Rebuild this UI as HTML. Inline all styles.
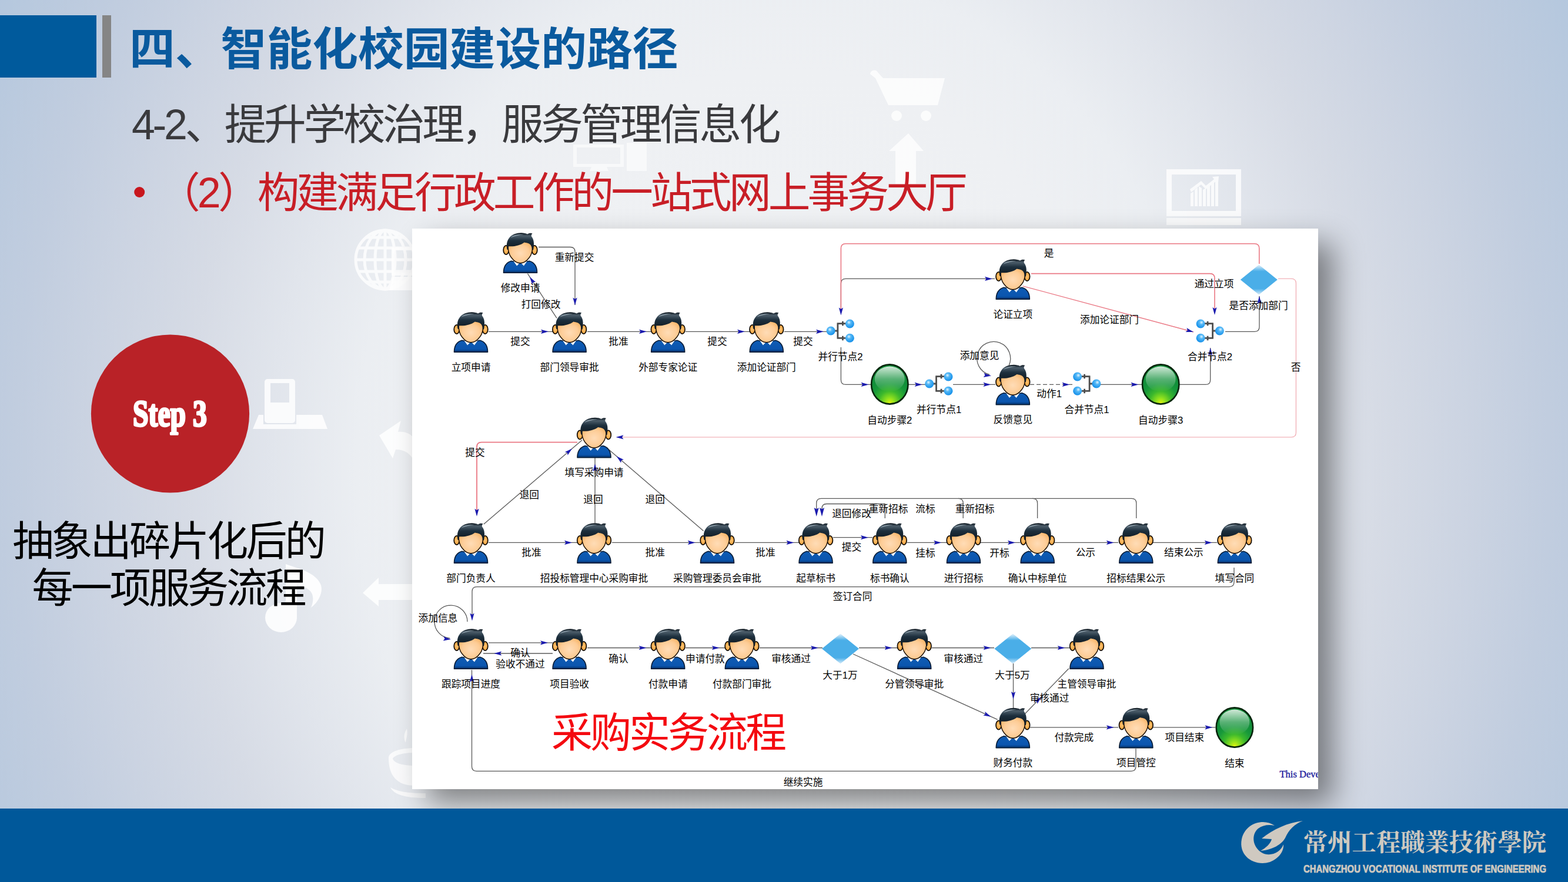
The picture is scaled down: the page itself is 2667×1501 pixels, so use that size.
<!DOCTYPE html>
<html lang="zh"><head><meta charset="utf-8"><title>slide</title>
<style>
html,body{margin:0;padding:0}
body{width:2667px;height:1501px;position:relative;overflow:hidden;font-family:"Liberation Sans",sans-serif;background:#dfe4ec}
.bg{position:absolute;left:0;top:0;width:2667px;height:1501px;background:
 radial-gradient(ellipse 1450px 1700px at 1330px 800px,#f1f3f5 0%,#eef0f3 40%,#ebeef2 50%,#e1e5ec 60%,#d6dbe5 70%,#ccd4e2 80%,#c1cddf 90%,#b8c9de 100%,#aec5de 110%)}
.t{fill:#000;font-family:"Liberation Sans","Noto Sans CJK SC",sans-serif}
.tf{font-family:"Liberation Sans","Noto Sans CJK SC",sans-serif}
.hb{position:absolute;left:0;top:26px;width:164px;height:105.500px;background:#005a9c}
.hg{position:absolute;left:174px;top:26px;width:14.500px;height:105.500px;background:#858585}
.panel{position:absolute;left:700.500px;top:389.300px;width:1541.300px;height:953.800px;background:#fff;box-shadow:25px 25px 48px 0 rgba(0,0,0,.46)}
.ft{position:absolute;left:0;top:1376px;width:2667px;height:125px;background:#00589a}
</style></head><body>
<div class="bg"></div>
<svg width="2667" height="1501" viewBox="0 0 2667 1501" style="position:absolute;left:0;top:0" fill="#fff"><g opacity=".8"><path d="M1480 126a7 7 0 0 1 13-3l9 10h105l-12 46h-84l-22-46z"/><circle cx="1525" cy="197" r="9"/><circle cx="1575" cy="197" r="9"/></g><g opacity=".75"><path d="M1545 227l26 30h-13v56h-35v-56h-11z"/></g><g opacity=".6"><path d="M975 246h86v38h-86zM981 251v28h74v-28z" fill-rule="evenodd"/><path d="M1006 284h26l3 7h-32zM1066 243h34v48h-34z"/></g><g opacity=".8"><path d="M1984 288h127v80h-127zM1993 297v62h109v-62z" fill-rule="evenodd"/><path d="M1984 371h127v12h-127z"/><path d="M2025 351v-22l5-3v25zM2032 351v-28l5-4v32zM2039 351v-34l5 3v31zM2046 351v-28l5-3v31zM2053 351v-34l5-4v38zM2060 351v-41l5-4v45zM2067 351v-46l5-3v49z"/><path d="M2024 322l19-14 8 8 14-11-3-4 11-1-1 11-3-3-18 14-8-8-17 13z"/></g><g opacity=".8" fill="none" stroke="#fff" stroke-width="5"><circle cx="655" cy="442" r="50"/><ellipse cx="655" cy="442" rx="17" ry="50"/><ellipse cx="655" cy="442" rx="35" ry="50"/><path d="M655 392v100M605 442h100M610 422h90M610 462h90M622 404h66M622 480h66"/></g><g opacity=".85"><path d="M666 421h70v48h-70zM671 426v38h60v-38z" fill-rule="evenodd"/><path d="M668 471h68v23h-74z"/></g><g opacity=".85"><path d="M455 645h42a5 5 0 0 1 5 5v65a5 5 0 0 1-5 5h-42a5 5 0 0 1-5-5v-65a5 5 0 0 1 5-5zM460 652v33h32v-33z" fill-rule="evenodd"/><path d="M440 706h8v16h56v-16h44l9 24h-127z"/></g><g opacity=".85"><path d="M645 741l37-25-5 19c14-1 22 4 28 12v40c-5-14-16-22-32-22l-5 15z"/></g><g opacity=".85"><path d="M617 1009l27-26v11h62v27h-62v11z"/></g><g opacity=".9"><ellipse cx="478" cy="1051" rx="27" ry="25"/><path d="M486 960c22 8 52 14 60 36 4 14-6 30-17 38 6-14 4-26-6-32-6-4-12-6-18-7v58h-19z"/></g><g opacity=".8"><path d="M661 1290c0 30 14 47 45 47v-64c-25 0-45 6-45 17zM668 1291c4-7 20-10 38-10v22c-20 0-36-4-38-12z" fill-rule="evenodd"/><path d="M664 1340c6 12 24 18 60 18v-8c-30 0-48-3-60-10z"/><path d="M692 1240c-5 8-6 16-2 24 1-8 4-14 2-24z"/></g></svg>
<div class="hb"></div><div class="hg"></div>
<div class="panel"></div>
<div class="ft"></div>
<svg width="2667" height="1501" viewBox="0 0 2667 1501" style="position:absolute;left:0;top:0"><defs>
<linearGradient id="gBody" x1="0" y1="0" x2="0" y2="1"><stop offset="0" stop-color="#0f5cb4"/><stop offset=".75" stop-color="#0b55ae"/><stop offset=".9" stop-color="#063d80"/><stop offset="1" stop-color="#04264f"/></linearGradient>
<radialGradient id="gFace" cx=".5" cy=".55" r=".6"><stop offset="0" stop-color="#ffdcb6"/><stop offset=".6" stop-color="#fdcc96"/><stop offset="1" stop-color="#f8b262"/></radialGradient>
<linearGradient id="gHair" x1="0" y1="0" x2="0" y2="1"><stop offset="0" stop-color="#0b141c"/><stop offset=".18" stop-color="#4b5c69"/><stop offset=".45" stop-color="#1d2f3d"/><stop offset="1" stop-color="#0b151d"/></linearGradient>
<radialGradient id="gEar" cx=".5" cy=".5" r=".6"><stop offset="0" stop-color="#fcc476"/><stop offset="1" stop-color="#f29a2c"/></radialGradient>
<radialGradient id="gBall" cx=".5" cy=".98" r=".62"><stop offset="0" stop-color="#e2f40e"/><stop offset=".22" stop-color="#8ee01e"/><stop offset=".5" stop-color="#3cb82c"/><stop offset=".8" stop-color="#18993a"/><stop offset="1" stop-color="#12903a"/></radialGradient>
<linearGradient id="gBallHi" x1="0" y1="0" x2="0" y2="1"><stop offset="0" stop-color="#fff" stop-opacity=".8"/><stop offset=".5" stop-color="#fff" stop-opacity=".3"/><stop offset="1" stop-color="#fff" stop-opacity="0"/></linearGradient>
<linearGradient id="gDia" x1="0" y1="0" x2="0" y2="1"><stop offset="0" stop-color="#e8f4fc"/><stop offset=".22" stop-color="#4aaee8"/><stop offset=".8" stop-color="#4aaee8"/><stop offset="1" stop-color="#d8ecfa"/></linearGradient>
<radialGradient id="gDot" cx=".4" cy=".35" r=".65"><stop offset="0" stop-color="#e6f6ff"/><stop offset=".35" stop-color="#55b8f6"/><stop offset="1" stop-color="#1590ea"/></radialGradient>
<g id="P">
<path d="M1 68.3C1 58 5 51 14 48.3L29.5 51 45 48.3C54 51 58 58 58 68.3Z" fill="url(#gBody)" stroke="#061a33" stroke-width="1.6" stroke-linejoin="round"/>
<path d="M18 48.6l5.6 7.8 4.4-4.6zM41 48.6l-5.6 7.8-4.4-4.6z" fill="#fff"/>
<ellipse cx="5.3" cy="29.5" rx="4.6" ry="7.6" fill="url(#gEar)" stroke="#100a04" stroke-width="1.7"/>
<ellipse cx="53.7" cy="29.5" rx="4.6" ry="7.6" fill="url(#gEar)" stroke="#100a04" stroke-width="1.7"/>
<path d="M8.6 22C8.6 12 50.4 12 50.4 22 50.4 30 49 37 45 42 41 47.5 36 51.8 29.5 51.8 23 51.8 18 47.5 14 42 10 37 8.6 30 8.600 22Z" fill="url(#gFace)" stroke="#1a0e04" stroke-width="1.4"/>
<path d="M7.3 29C5.800 24 5.500 15 10.500 9 15 3 23 .3 31 .3 35.500 .3 39 1.300 41.500 2.500 44 .6 47.500 .2 50 1.200 48.500 2.600 48 4.500 48.500 6.500 52.500 11 53.500 18 51.500 29.500L49.300 29.500C49.500 24 47.500 20 43.500 18.300 41.500 17.500 39 17 36.300 16.500 30 21.500 19 24 9.600 23.200 9.400 25 9.300 27 9.400 29Z" fill="url(#gHair)"/>
<path d="M13 8.500C18 3.500 27 2.300 35 3.200 27 3.800 19 6 13 8.500Z" fill="#9fb0bb" opacity=".8"/>
</g><g id="B"><ellipse rx="31.2" ry="33.6" fill="url(#gBall)" stroke="#06240c" stroke-width="2.600"/><ellipse cy="-9" rx="25.500" ry="21.500" fill="url(#gBallHi)"/></g><g id="D"><path d="M-31.500 0L0-25.500 31.500 0 0 25.500Z" fill="url(#gDia)"/></g><g id="Fk"><path d="M-4.600-12.400V12.400M-5.900-12.400H9M-5.900 12.400H9M3.900-16.200V-8.800M3.900 8.800V16.200M-10 0H-4" stroke="#4e4e4e" stroke-width="2.800" fill="none"/><circle cx="-16.400" cy="0" r="7.500" fill="url(#gDot)"/><circle cx="15.900" cy="-12" r="7.500" fill="url(#gDot)"/><circle cx="15.900" cy="12.200" r="7.500" fill="url(#gDot)"/></g></defs><g stroke-linecap="butt"><path d="M831,564.3 H940" stroke="#5a5a5a" stroke-width="1.3" fill="none"/><path d="M999,564.3 H1107" stroke="#5a5a5a" stroke-width="1.3" fill="none"/><path d="M1166,564.3 H1275" stroke="#5a5a5a" stroke-width="1.3" fill="none"/><path d="M1334,564.3 H1406" stroke="#5a5a5a" stroke-width="1.3" fill="none"/><path d="M897.4,465.7 L947,541.4" stroke="#5a5a5a" stroke-width="1.3" fill="none"/><path d="M916,420.5 H970 Q978,420.5 978,428.5 V519" stroke="#5a5a5a" stroke-width="1.3" fill="none"/><path d="M1430.4,529 V482.4 Q1430.4,474.4 1438.4,474.4 H1692" stroke="#5a5a5a" stroke-width="1.3" fill="none"/><path d="M1430.4,591 V646.4 Q1430.4,654.4 1438.4,654.4 H1482" stroke="#5a5a5a" stroke-width="1.3" fill="none"/><path d="M1545,654.4 H1574" stroke="#5a5a5a" stroke-width="1.3" fill="none"/><path d="M1621,654.4 H1693" stroke="#5a5a5a" stroke-width="1.3" fill="none"/><path d="M1752,654.4 H1824" stroke="#5a5a5a" stroke-width="1.3" fill="none" stroke-dasharray="7 4"/><path d="M1872,654.4 H1942" stroke="#5a5a5a" stroke-width="1.3" fill="none"/><path d="M2006,654.4 H2050.7 Q2058.7,654.4 2058.7,646.4 V592" stroke="#5a5a5a" stroke-width="1.3" fill="none"/><path d="M2084,564.3 H2134 Q2142,564.3 2142,556.3 V504" stroke="#5a5a5a" stroke-width="1.3" fill="none"/><path d="M1716,622 A28.5,28.5 0 1 0 1683,637.500" stroke="#5a5a5a" stroke-width="1.3" fill="none"/><path d="M2141.8,449 V422.8 Q2141.8,414.8 2133.8,414.8 H1438.4 Q1430.4,414.8 1430.4,422.8 V529" stroke="#ea7884" stroke-width="1.6" fill="none"/><path d="M1754,465.6 H2058 Q2066,465.6 2066,473.6 V529" stroke="#ea7884" stroke-width="1.6" fill="none"/><path d="M1739.6,486.8 L2030,565" stroke="#ea7884" stroke-width="1.3" fill="none"/><path d="M2174,474.3 H2196.4 Q2204.4,474.3 2204.4,482.3 V736 Q2204.4,744 2196.4,744 H1050" stroke="#efa0a8" stroke-width="1.1" fill="none"/><path d="M982,752.6 H819 Q811,752.6 811,760.6 V876" stroke="#ea7884" stroke-width="1.8" fill="none"/><path d="M831,923.4 H982" stroke="#5a5a5a" stroke-width="1.3" fill="none"/><path d="M1041,923.4 H1191" stroke="#5a5a5a" stroke-width="1.3" fill="none"/><path d="M1250,923.4 H1359" stroke="#5a5a5a" stroke-width="1.3" fill="none"/><path d="M1417,914.7 H1484" stroke="#5a5a5a" stroke-width="1.3" fill="none"/><path d="M1543,923.4 H1610" stroke="#5a5a5a" stroke-width="1.3" fill="none"/><path d="M1668,923.4 H1735" stroke="#5a5a5a" stroke-width="1.3" fill="none"/><path d="M1794,923.4 H1902" stroke="#5a5a5a" stroke-width="1.3" fill="none"/><path d="M1961,923.4 H2070" stroke="#5a5a5a" stroke-width="1.3" fill="none"/><path d="M822.8,892 L990,749" stroke="#5a5a5a" stroke-width="1.3" fill="none"/><path d="M1012,890 V778" stroke="#5a5a5a" stroke-width="1.3" fill="none"/><path d="M1196.5,903.5 L1036,765.5" stroke="#5a5a5a" stroke-width="1.3" fill="none"/><path d="M1505.3,882 V857.5 H1406 Q1398,857.5 1398,865.5 V876" stroke="#5a5a5a" stroke-width="1.3" fill="none"/><path d="M1638.2,882 V856.4 Q1638.2,848.4 1630.2,848.4 H1396.7 Q1388.7,848.4 1388.7,856.4 V876" stroke="#5a5a5a" stroke-width="1.3" fill="none"/><path d="M1764.6,882 V856.4 Q1764.6,848.4 1756.6,848.4 H1630" stroke="#5a5a5a" stroke-width="1.3" fill="none"/><path d="M1932.8,882 V856.4 Q1932.8,848.4 1924.8,848.4 H1756" stroke="#5a5a5a" stroke-width="1.3" fill="none"/><path d="M2099,966 V990.6 Q2099,998.6 2091,998.6 H811 Q803,998.6 803,1006.6 V1053" stroke="#5a5a5a" stroke-width="1.3" fill="none"/><path d="M831,1093.8 H940" stroke="#5a5a5a" stroke-width="1.3" fill="none"/><path d="M940,1112 H822" stroke="#5a5a5a" stroke-width="1.3" fill="none"/><path d="M999,1102.5 H1107" stroke="#5a5a5a" stroke-width="1.3" fill="none"/><path d="M1166,1102.5 H1233" stroke="#5a5a5a" stroke-width="1.3" fill="none"/><path d="M1292,1102.5 H1399" stroke="#5a5a5a" stroke-width="1.3" fill="none"/><path d="M1461,1102.5 H1526" stroke="#5a5a5a" stroke-width="1.3" fill="none"/><path d="M1585,1102.5 H1691" stroke="#5a5a5a" stroke-width="1.3" fill="none"/><path d="M1754,1102.5 H1819" stroke="#5a5a5a" stroke-width="1.3" fill="none"/><path d="M1451,1113 L1696.8,1224.7" stroke="#5a5a5a" stroke-width="1.3" fill="none"/><path d="M1723.5,1129 V1208" stroke="#5a5a5a" stroke-width="1.3" fill="none"/><path d="M1817.8,1137.8 L1743.4,1214.7" stroke="#5a5a5a" stroke-width="1.3" fill="none"/><path d="M1752,1237.8 H1902" stroke="#5a5a5a" stroke-width="1.3" fill="none"/><path d="M1961,1237.8 H2067" stroke="#5a5a5a" stroke-width="1.3" fill="none"/><path d="M1932,1274 V1304.3 Q1932,1312.3 1924,1312.3 H810.5 Q802.5,1312.3 802.5,1304.3 V1140" stroke="#5a5a5a" stroke-width="1.3" fill="none"/><path d="M795,1058 A28,28 0 1 0 765,1086" stroke="#5a5a5a" stroke-width="1.3" fill="none"/></g><path d="M933,564.3 L920,560.7 L922.5,564.3 L920,567.9 Z" fill="#1a1aae"/><path d="M1100,564.3 L1087,560.7 L1089.5,564.3 L1087,567.9 Z" fill="#1a1aae"/><path d="M1267,564.3 L1254,560.7 L1256.5,564.3 L1254,567.9 Z" fill="#1a1aae"/><path d="M1401,564.3 L1388,560.7 L1390.5,564.3 L1388,567.9 Z" fill="#1a1aae"/><path d="M901,471.2 L905.1,484 L906.8,480 L911.1,480.1 Z" fill="#1a1aae"/><path d="M978,519.5 L981.6,506.5 L978,509 L974.4,506.5 Z" fill="#1a1aae"/><path d="M1688,474.4 L1675,470.8 L1677.5,474.4 L1675,478 Z" fill="#1a1aae"/><path d="M1477.6,654.4 L1464.6,650.8 L1467.1,654.4 L1464.6,658 Z" fill="#1a1aae"/><path d="M1568.7,654.4 L1555.7,650.8 L1558.2,654.4 L1555.7,658 Z" fill="#1a1aae"/><path d="M1685.4,654.4 L1672.4,650.8 L1674.9,654.4 L1672.4,658 Z" fill="#1a1aae"/><path d="M1819.6,654.4 L1806.6,650.8 L1809.1,654.4 L1806.6,658 Z" fill="#1a1aae"/><path d="M1936.5,654.4 L1923.5,650.8 L1926,654.4 L1923.5,658 Z" fill="#1a1aae"/><path d="M2058.7,592 L2055.1,605 L2058.7,602.5 L2062.3,605 Z" fill="#1a1aae"/><path d="M2142,504 L2138.4,517 L2142,514.5 L2145.6,517 Z" fill="#1a1aae"/><path d="M1686,639.5 L1673.4,634.8 L1675.5,638.6 L1672.7,642 Z" fill="#1a1aae"/><path d="M1430.4,536.4 L1434,523.4 L1430.4,525.9 L1426.8,523.4 Z" fill="#1a1aae"/><path d="M2066,536 L2069.6,523 L2066,525.5 L2062.4,523 Z" fill="#1a1aae"/><path d="M2030,565 L2018.4,558.1 L2019.9,562.3 L2016.5,565.1 Z" fill="#1a1aae"/><path d="M1047.5,744 L1060.5,747.6 L1058,744 L1060.5,740.4 Z" fill="#1a1aae"/><path d="M811,878.7 L814.6,865.7 L811,868.2 L807.4,865.7 Z" fill="#1a1aae"/><path d="M973,923.4 L960,919.8 L962.5,923.4 L960,927 Z" fill="#1a1aae"/><path d="M1182.8,923.4 L1169.8,919.8 L1172.3,923.4 L1169.8,927 Z" fill="#1a1aae"/><path d="M1350.5,923.4 L1337.5,919.8 L1340,923.4 L1337.5,927 Z" fill="#1a1aae"/><path d="M1477,914.7 L1464,911.1 L1466.5,914.7 L1464,918.3 Z" fill="#1a1aae"/><path d="M1601.2,923.4 L1588.2,919.8 L1590.7,923.4 L1588.2,927 Z" fill="#1a1aae"/><path d="M1727,923.4 L1714,919.8 L1716.5,923.4 L1714,927 Z" fill="#1a1aae"/><path d="M1894.8,923.4 L1881.8,919.8 L1884.3,923.4 L1881.8,927 Z" fill="#1a1aae"/><path d="M2061.7,923.4 L2048.7,919.8 L2051.2,923.4 L2048.7,927 Z" fill="#1a1aae"/><path d="M973,763.5 L960.8,769.2 L965,770.3 L965.5,774.7 Z" fill="#1a1aae"/><path d="M1012,789.3 L1008.4,802.3 L1012,799.8 L1015.6,802.3 Z" fill="#1a1aae"/><path d="M1048.7,776.5 L1056.2,787.7 L1056.7,783.3 L1060.9,782.2 Z" fill="#1a1aae"/><path d="M1398,879 L1402,864 L1398,866.5 L1394,864 Z" fill="#1a1aae"/><path d="M1388.7,879 L1392.7,864 L1388.7,866.5 L1384.7,864 Z" fill="#1a1aae"/><path d="M803,1056.6 L806.6,1043.6 L803,1046.1 L799.4,1043.6 Z" fill="#1a1aae"/><path d="M932,1093.8 L919,1090.2 L921.5,1093.8 L919,1097.4 Z" fill="#1a1aae"/><path d="M840.2,1112 L853.2,1115.6 L850.7,1112 L853.2,1108.4 Z" fill="#1a1aae"/><path d="M1099.6,1102.5 L1086.6,1098.9 L1089.1,1102.5 L1086.6,1106.1 Z" fill="#1a1aae"/><path d="M1223.8,1102.5 L1210.8,1098.9 L1213.3,1102.5 L1210.8,1106.1 Z" fill="#1a1aae"/><path d="M1392,1102.5 L1379,1098.9 L1381.5,1102.5 L1379,1106.1 Z" fill="#1a1aae"/><path d="M1517.6,1102.5 L1504.6,1098.9 L1507.1,1102.5 L1504.6,1106.1 Z" fill="#1a1aae"/><path d="M1685.6,1102.5 L1672.6,1098.9 L1675.1,1102.5 L1672.6,1106.1 Z" fill="#1a1aae"/><path d="M1811.6,1102.5 L1798.6,1098.9 L1801.1,1102.5 L1798.6,1106.1 Z" fill="#1a1aae"/><path d="M1685.6,1219.7 L1675.3,1211 L1676,1215.4 L1672.3,1217.6 Z" fill="#1a1aae"/><path d="M1723.5,1190 L1727.1,1177 L1723.5,1179.5 L1719.9,1177 Z" fill="#1a1aae"/><path d="M1771,1186 L1759.4,1192.8 L1763.7,1193.5 L1764.5,1197.8 Z" fill="#1a1aae"/><path d="M1894.8,1237.8 L1881.8,1234.2 L1884.3,1237.8 L1881.8,1241.4 Z" fill="#1a1aae"/><path d="M2062.4,1237.8 L2049.4,1234.2 L2051.9,1237.8 L2049.4,1241.4 Z" fill="#1a1aae"/><path d="M802.5,1147.7 L798.9,1160.7 L802.5,1158.2 L806.1,1160.7 Z" fill="#1a1aae"/><path d="M767,1088 L754.4,1083.3 L756.5,1087.1 L753.7,1090.5 Z" fill="#1a1aae"/><use href="#D" x="2141.3" y="476"/><use href="#D" x="1429.5" y="1104"/><use href="#D" x="1722.8" y="1104"/><use href="#B" x="1513.3" y="654"/><use href="#B" x="1974.2" y="654"/><use href="#B" x="2099.9" y="1238"/><use href="#Fk" x="1429.5" y="563"/><use href="#Fk" x="1597.1" y="653"/><use href="#Fk" transform="translate(1848.5,653) scale(-1,1)"/><use href="#Fk" transform="translate(2058,563) scale(-1,1)"/><use href="#P" x="855.5" y="396"/><use href="#P" x="771.5" y="531"/><use href="#P" x="939.1" y="531"/><use href="#P" x="1106.7" y="531"/><use href="#P" x="1274.3" y="531"/><use href="#P" x="1693.3" y="441"/><use href="#P" x="1693.3" y="620.5"/><use href="#P" x="981" y="710.5"/><use href="#P" x="771.5" y="890"/><use href="#P" x="981" y="890"/><use href="#P" x="1190.5" y="890"/><use href="#P" x="1358.1" y="890"/><use href="#P" x="1483.8" y="890"/><use href="#P" x="1609.5" y="890"/><use href="#P" x="1735.2" y="890"/><use href="#P" x="1902.8" y="890"/><use href="#P" x="2070.4" y="890"/><use href="#P" x="771.5" y="1070"/><use href="#P" x="939.1" y="1070"/><use href="#P" x="1106.7" y="1070"/><use href="#P" x="1232.4" y="1070"/><use href="#P" x="1525.7" y="1070"/><use href="#P" x="1819" y="1070"/><use href="#P" x="1693.3" y="1204.5"/><use href="#P" x="1902.8" y="1204.5"/>
<text class="t" x="851.7" y="495.9" font-size="16.7" textLength="66.7">修改申请</text>
<text class="t" x="767.7" y="630.9" font-size="16.7" textLength="66.7">立项申请</text>
<text class="t" x="918.6" y="630.9" font-size="16.7" textLength="100">部门领导审批</text>
<text class="t" x="1086.2" y="630.9" font-size="16.7" textLength="100">外部专家论证</text>
<text class="t" x="1253.8" y="630.9" font-size="16.7" textLength="100">添加论证部门</text>
<text class="t" x="1689.5" y="540.9" font-size="16.7" textLength="66.7">论证立项</text>
<text class="t" x="1689.5" y="720.4" font-size="16.7" textLength="66.7">反馈意见</text>
<text class="t" x="960.5" y="810.4" font-size="16.7" textLength="100">填写采购申请</text>
<text class="t" x="759.3" y="989.9" font-size="16.7" textLength="83.4">部门负责人</text>
<text class="t" x="918.8" y="989.9" font-size="16.7" textLength="183.4">招投标管理中心采购审批</text>
<text class="t" x="1145" y="989.9" font-size="16.7" textLength="150">采购管理委员会审批</text>
<text class="t" x="1354.3" y="989.9" font-size="16.7" textLength="66.7">起草标书</text>
<text class="t" x="1480" y="989.9" font-size="16.7" textLength="66.7">标书确认</text>
<text class="t" x="1605.7" y="989.9" font-size="16.7" textLength="66.7">进行招标</text>
<text class="t" x="1714.7" y="989.9" font-size="16.7" textLength="100">确认中标单位</text>
<text class="t" x="1882.3" y="989.9" font-size="16.7" textLength="100">招标结果公示</text>
<text class="t" x="2066.6" y="989.9" font-size="16.7" textLength="66.7">填写合同</text>
<text class="t" x="751" y="1169.9" font-size="16.7" textLength="100">跟踪项目进度</text>
<text class="t" x="935.3" y="1169.9" font-size="16.7" textLength="66.7">项目验收</text>
<text class="t" x="1102.9" y="1169.9" font-size="16.7" textLength="66.7">付款申请</text>
<text class="t" x="1211.9" y="1169.9" font-size="16.7" textLength="100">付款部门审批</text>
<text class="t" x="1505.2" y="1169.9" font-size="16.7" textLength="100">分管领导审批</text>
<text class="t" x="1798.5" y="1169.9" font-size="16.7" textLength="100">主管领导审批</text>
<text class="t" x="1689.5" y="1304.4" font-size="16.7" textLength="66.7">财务付款</text>
<text class="t" x="1899" y="1304.4" font-size="16.7" textLength="66.7">项目管控</text>
<text class="t" x="1475.2" y="721.4" font-size="16.7" textLength="76.2">自动步骤2</text>
<text class="t" x="1936.1" y="721.4" font-size="16.7" textLength="76.2">自动步骤3</text>
<text class="t" x="2083.2" y="1305.4" font-size="16.7" textLength="33.3">结束</text>
<text class="t" x="1391.4" y="612.8" font-size="16.7" textLength="76.2">并行节点2</text>
<text class="t" x="1559" y="702.8" font-size="16.7" textLength="76.2">并行节点1</text>
<text class="t" x="1810.4" y="703.4" font-size="16.7" textLength="76.2">合并节点1</text>
<text class="t" x="2019.9" y="613.4" font-size="16.7" textLength="76.2">合并节点2</text>
<text class="t" x="943.7" y="444.4" font-size="16.7" textLength="66.7">重新提交</text>
<text class="t" x="886.7" y="524.4" font-size="16.7" textLength="66.7">打回修改</text>
<text class="t" x="868.3" y="587" font-size="16.7" textLength="33.3">提交</text>
<text class="t" x="1035.3" y="587" font-size="16.7" textLength="33.3">批准</text>
<text class="t" x="1203.3" y="587" font-size="16.7" textLength="33.3">提交</text>
<text class="t" x="1349.3" y="587" font-size="16.7" textLength="33.3">提交</text>
<text class="t" x="1632.7" y="610.9" font-size="16.7" textLength="66.7">添加意见</text>
<text class="t" x="1775.7" y="437.4" font-size="16.7" textLength="16.7">是</text>
<text class="t" x="1837" y="550" font-size="16.7" textLength="100">添加论证部门</text>
<text class="t" x="2031.7" y="489.4" font-size="16.7" textLength="66.7">通过立项</text>
<text class="t" x="2090.6" y="526.4" font-size="16.7" textLength="100">是否添加部门</text>
<text class="t" x="2195.7" y="631.4" font-size="16.7" textLength="16.7">否</text>
<text class="t" x="1763.3" y="676.4" font-size="16.7" textLength="42.8">动作1</text>
<text class="t" x="791.3" y="775.7" font-size="16.7" textLength="33.3">提交</text>
<text class="t" x="883.7" y="848.4" font-size="16.7" textLength="33.3">退回</text>
<text class="t" x="992.3" y="856.4" font-size="16.7" textLength="33.3">退回</text>
<text class="t" x="1097.6" y="856.4" font-size="16.7" textLength="33.3">退回</text>
<text class="t" x="887.3" y="946" font-size="16.7" textLength="33.3">批准</text>
<text class="t" x="1097.6" y="946" font-size="16.7" textLength="33.3">批准</text>
<text class="t" x="1285.3" y="946" font-size="16.7" textLength="33.3">批准</text>
<text class="t" x="1415.2" y="880.2" font-size="16.7" textLength="66.7">退回修改</text>
<text class="t" x="1477.7" y="872.2" font-size="16.7" textLength="66.7">重新招标</text>
<text class="t" x="1557.3" y="872.2" font-size="16.7" textLength="33.3">流标</text>
<text class="t" x="1624.7" y="872.2" font-size="16.7" textLength="66.7">重新招标</text>
<text class="t" x="1431.8" y="937.4" font-size="16.7" textLength="33.3">提交</text>
<text class="t" x="1557.3" y="946.9" font-size="16.7" textLength="33.3">挂标</text>
<text class="t" x="1683.3" y="946.9" font-size="16.7" textLength="33.3">开标</text>
<text class="t" x="1829.7" y="946.1" font-size="16.7" textLength="33.3">公示</text>
<text class="t" x="1980.1" y="946.1" font-size="16.7" textLength="66.7">结束公示</text>
<text class="t" x="1416.7" y="1021.4" font-size="16.7" textLength="66.7">签订合同</text>
<text class="t" x="711.6" y="1058.4" font-size="16.7" textLength="66.7">添加信息</text>
<text class="t" x="868.3" y="1116.9" font-size="16.7" textLength="33.3">确认</text>
<text class="t" x="843.3" y="1136.4" font-size="16.7" textLength="83.4">验收不通过</text>
<text class="t" x="1035.3" y="1126.9" font-size="16.7" textLength="33.3">确认</text>
<text class="t" x="1166.1" y="1126.9" font-size="16.7" textLength="66.7">申请付款</text>
<text class="t" x="1312.2" y="1126.9" font-size="16.7" textLength="66.7">审核通过</text>
<text class="t" x="1399.2" y="1154.9" font-size="16.7" textLength="59.5">大于1万</text>
<text class="t" x="1605.3" y="1126.9" font-size="16.7" textLength="66.7">审核通过</text>
<text class="t" x="1692.2" y="1154.9" font-size="16.7" textLength="59.5">大于5万</text>
<text class="t" x="1751.7" y="1194.4" font-size="16.7" textLength="66.7">审核通过</text>
<text class="t" x="1793.4" y="1261" font-size="16.7" textLength="66.7">付款完成</text>
<text class="t" x="1981.5" y="1261" font-size="16.7" textLength="66.7">项目结束</text>
<text class="t" x="1332.7" y="1337.4" font-size="16.7" textLength="66.7">继续实施</text>
<text class="tf" x="220" y="111" font-size="77.8" font-weight="bold" fill="#0a5a9e" textLength="933.6">四、智能化校园建设的路径</text>
<text class="tf" x="224" y="237" font-size="71.7" fill="#3a3a3d" textLength="1104.4">4-2、提升学校治理，服务管理信息化</text>
<text class="tf" x="269" y="353" font-size="71.7" fill="#c81e26" textLength="1376.8">（2）构建满足行政工作的一站式网上事务大厅</text>
<text class="tf" x="21.2" y="946" font-size="70" fill="#000" textLength="533.6">抽象出碎片化后的</text>
<text class="tf" x="54.5" y="1026" font-size="70" fill="#000" textLength="466.9">每一项服务流程</text>
<text class="tf" x="937.9" y="1272" font-size="70" fill="#f40a10" textLength="400.2">采购实务流程</text>
<text x="2217" y="1447.5" font-family="'Liberation Serif','Noto Serif CJK SC',serif" font-weight="bold" font-size="41.3" fill="#cfc9c0" textLength="413">常州工程職業技術學院</text>
<g fill="#cfc9c0"><path d="M2168 1405C2150 1392 2118 1400 2112 1428 2106 1458 2135 1475 2160 1467 2175 1461 2184 1449 2183 1437 2178 1451 2160 1459 2146 1451 2130 1441 2128 1420 2140 1410 2148 1404 2158 1403 2168 1405Z"/><path d="M2216 1397C2190 1400 2166 1411 2146 1427L2163 1428C2161 1436 2153 1443 2144 1448 2165 1446 2180 1437 2186 1426 2192 1412 2202 1402 2216 1397Z"/></g><circle cx="289.5" cy="704" r="134.600" fill="#b92227"/>
<circle cx="237.200" cy="327" r="9" fill="#c8161d"/>
<text x="289" y="725" font-family="Liberation Serif,serif" font-weight="bold" font-size="64" fill="#fff" stroke="#fff" stroke-width="3.400" stroke-linejoin="round" text-anchor="middle" transform="translate(289 0) scale(.745 1) translate(-289 0)">Step 3</text>
<clipPath id="cpP"><rect x="700" y="389" width="1541.800" height="954"/></clipPath><text clip-path="url(#cpP)" x="2176.500" y="1323" font-family="Liberation Serif,serif" font-size="16.500" fill="#1c1c9c" stroke="#1c1c9c" stroke-width=".4">This Deve</text>
<text x="2217" y="1485" font-family="Liberation Sans,sans-serif" font-weight="bold" font-size="18" fill="#cfc9c0" stroke="#cfc9c0" stroke-width=".7" textLength="413" lengthAdjust="spacingAndGlyphs">CHANGZHOU VOCATIONAL INSTITUTE OF ENGINEERING</text>
</svg>
</body></html>
